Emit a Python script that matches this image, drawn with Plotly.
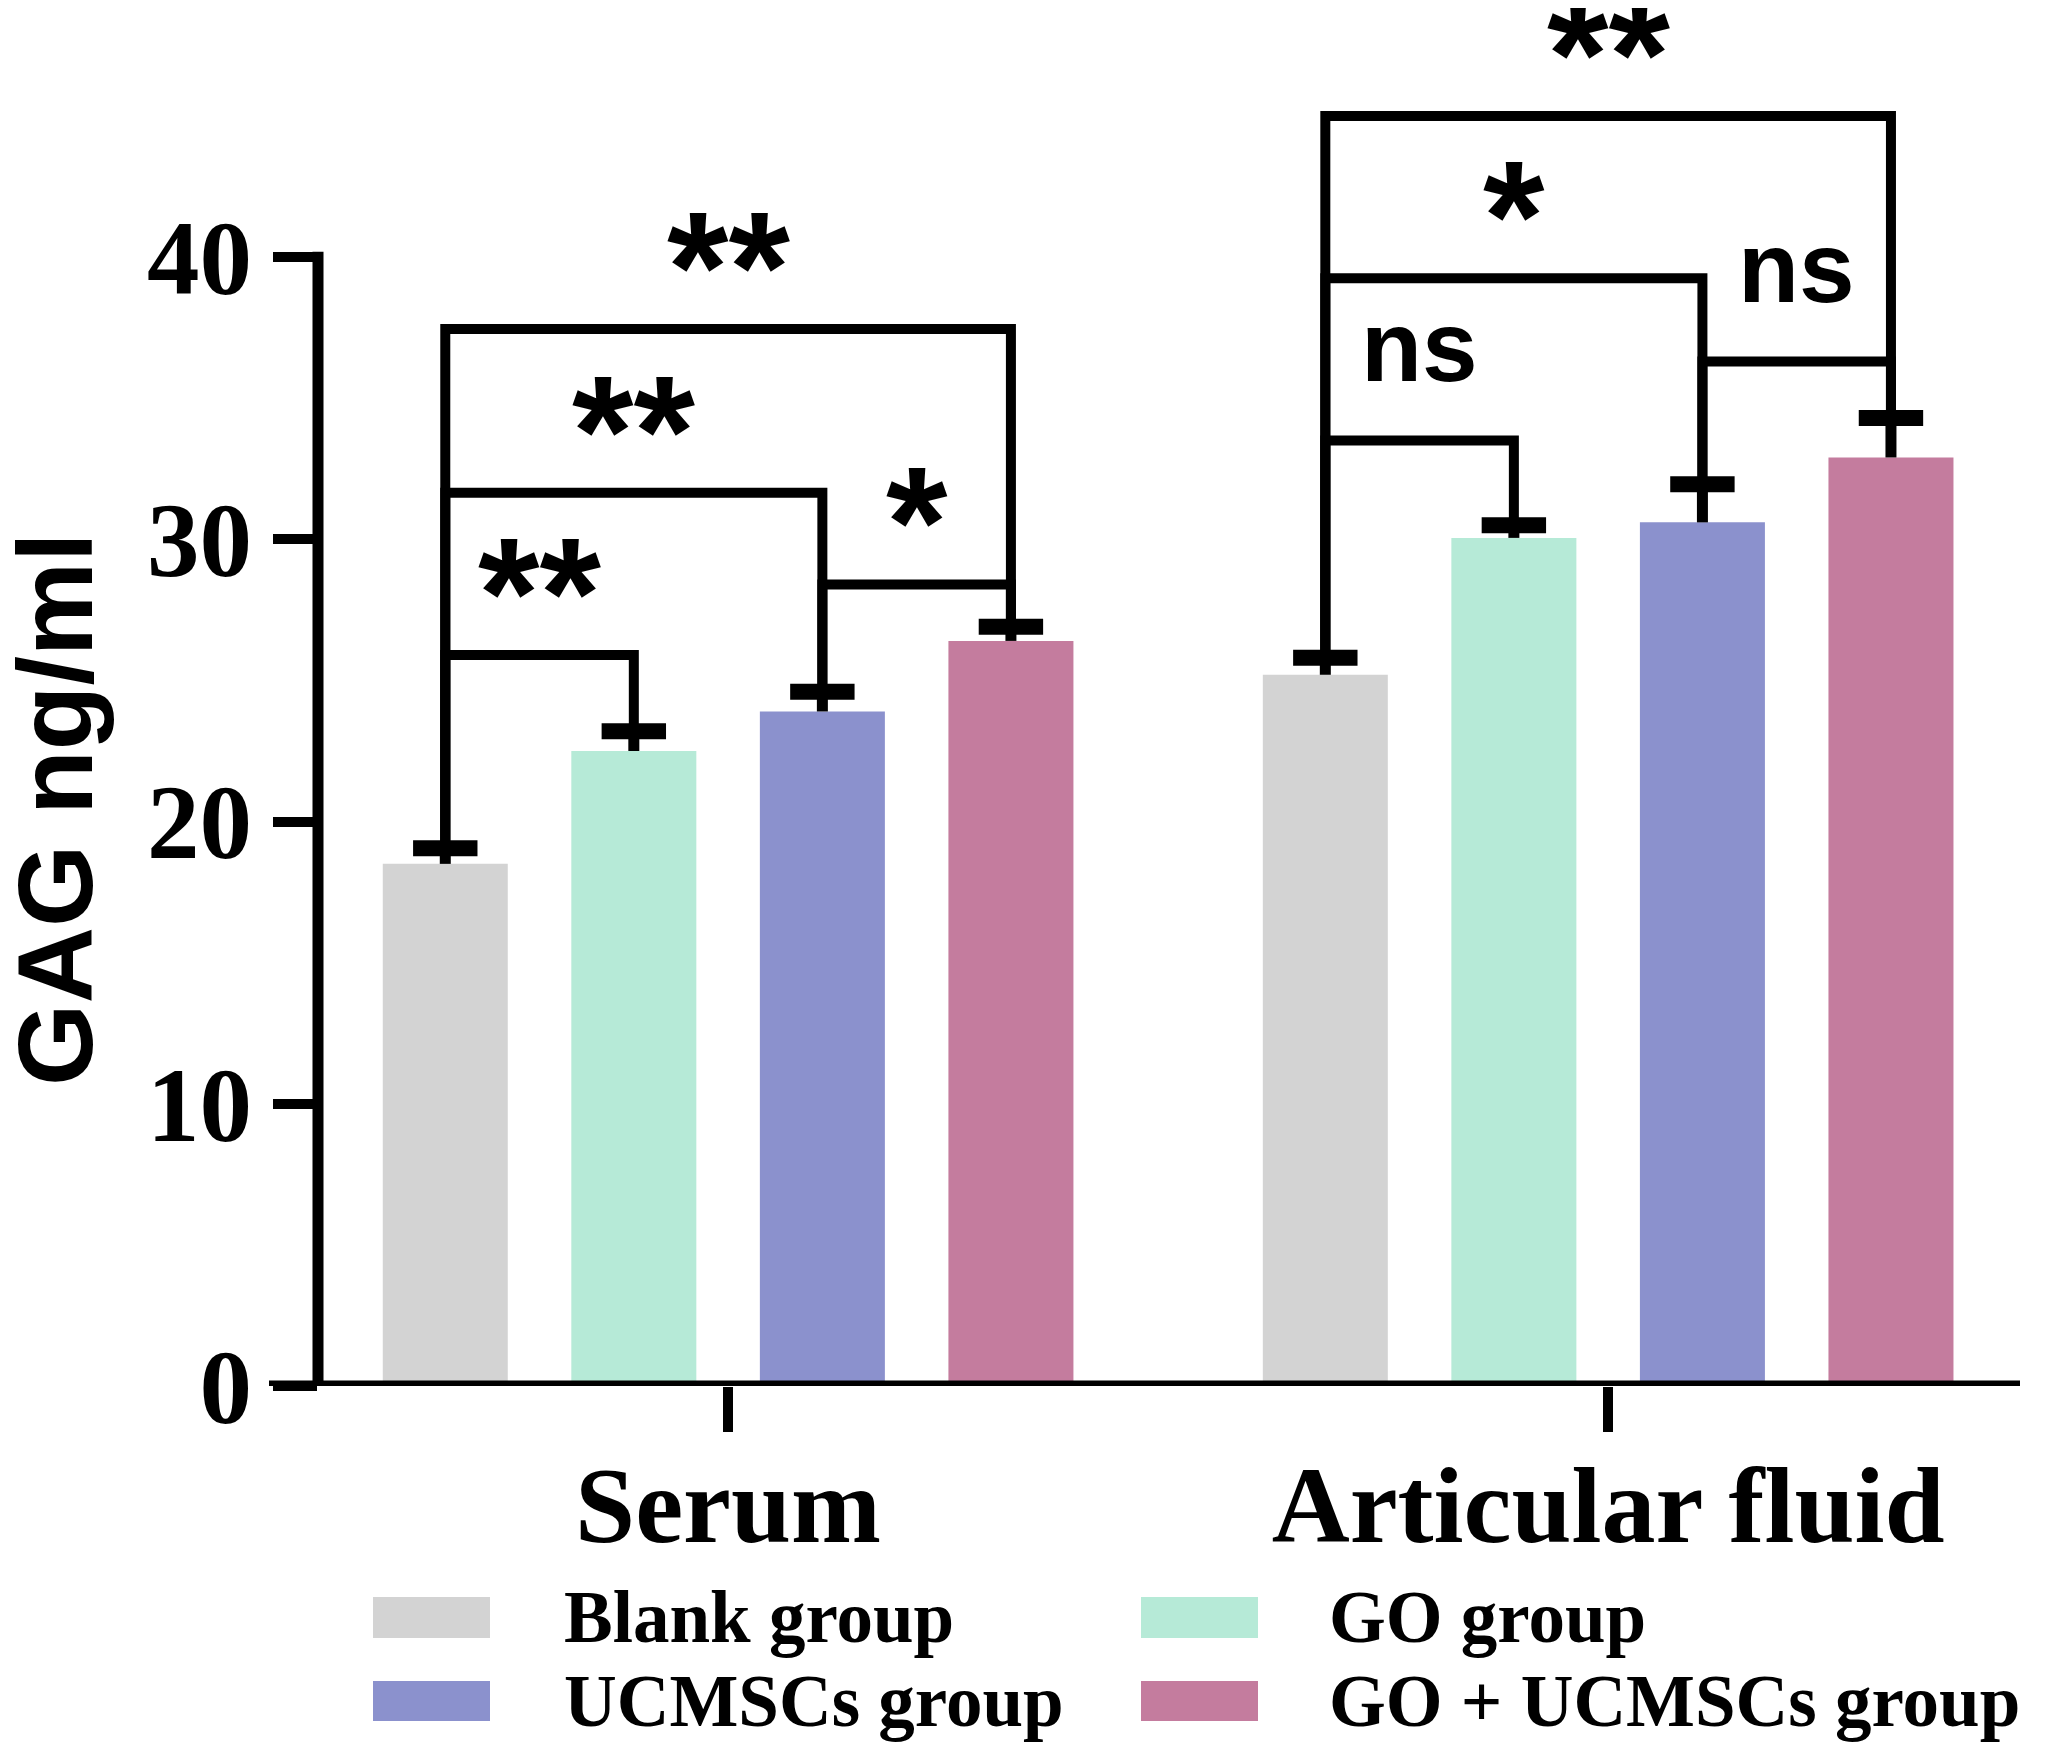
import plotly.graph_objects as go

categories = ["Serum", "Articular fluid"]
groups = ["Blank group", "GO group", "UCMSCs group", "GO + UCMSCs group"]
colors = ["#D3D3D3", "#B6EAD7", "#8B91CD", "#C47C9E"]

# GAG ng/ml per group, [Serum, Articular fluid]
blank_mean = [18.5, 25.2]
go_mean = [22.5, 30.05]
ucmsc_mean = [23.9, 30.6]
go_ucmsc_mean = [26.4, 32.9]

blank_err = [0.55, 0.6]
go_err = [0.7, 0.45]
ucmsc_err = [0.7, 1.35]
go_ucmsc_err = [0.5, 1.4]

y_ticks = [0, 10, 20, 30, 40]

# (category, group a, group b, bracket height, label)
brackets = [
    (0, 0, 1, 25.9, "**"),
    (0, 0, 2, 31.65, "**"),
    (0, 2, 3, 28.4, "*"),
    (0, 0, 3, 37.45, "**"),
    (1, 0, 1, 33.5, "ns"),
    (1, 0, 2, 39.25, "*"),
    (1, 2, 3, 36.3, "ns"),
    (1, 0, 3, 45.0, "**"),
]

means = [blank_mean, go_mean, ucmsc_mean, go_ucmsc_mean]
errs = [blank_err, go_err, ucmsc_err, go_ucmsc_err]

# page geometry (px); the page body adds an 8px margin
W, H, OFF = 2047, 1755, 8
L, R, T, B = 318, 2020, 20, 1386
BARGAP = 0.143
X_RANGE = [-0.466, 1.468]
Y_RANGE = [0, 48.4]


def px(xp):
    return (xp - L) / (R - L)


def py(yp):
    return (B - yp) / (B - T)


positions = list(range(len(categories)))
slot = (1 - BARGAP) / len(groups)


def bar_x(cat, g):
    return cat + (g - (len(groups) - 1) / 2) * slot


fig = go.Figure()
for name, color, m, e in zip(groups, colors, means, errs):
    fig.add_trace(go.Bar(
        x=positions, y=m, name=name,
        marker=dict(color=color, line=dict(width=0)),
        error_y=dict(type="data", array=e, arrayminus=[0] * len(e), symmetric=False,
                     color="black", thickness=11, width=0),
    ))

# error bar caps (top only)
cap_x, cap_y = [], []
for g in range(len(groups)):
    for c in positions:
        cap_x.append(bar_x(c, g))
        cap_y.append(means[g][c] + errs[g][c])
fig.add_trace(go.Scatter(
    x=cap_x, y=cap_y, mode="markers", hoverinfo="skip",
    marker=dict(symbol="line-ew", size=46, line=dict(color="black", width=16)),
))

shapes = []
annotations = []
for cat, a, b, yh, label in brackets:
    xa, xb = bar_x(cat, a), bar_x(cat, b)
    ya = means[a][cat] + errs[a][cat] + 0.2
    yb = means[b][cat] + errs[b][cat] + 0.2
    shapes.append(dict(type="path", xref="x", yref="y",
                       path=f"M {xa},{ya} L {xa},{yh} L {xb},{yh} L {xb},{yb}",
                       line=dict(color="black", width=10)))
    star = "*" in label
    annotations.append(dict(
        x=(xa + xb) / 2, y=yh, xref="x", yref="y", text=label, showarrow=False,
        yanchor="middle", yshift=62 if star else 95,
        font=dict(family="Liberation Sans, Arial", size=158 if star else 100,
                  color="black", weight="bold"),
    ))

# axis lines
shapes.append(dict(type="line", xref="paper", yref="y", x0=0, x1=0,
                   y0=0, y1=y_ticks[-1] + 0.19, line=dict(color="black", width=11)))
shapes.append(dict(type="line", xref="paper", yref="y", x0=px(269), x1=1,
                   y0=0, y1=0, line=dict(color="black", width=11)))

# y title
annotations.append(dict(
    x=px(55), y=py(809), xref="paper", yref="paper", text="GAG ng/ml",
    textangle=-90, showarrow=False, xanchor="center", yanchor="middle",
    font=dict(family="Liberation Sans, Arial", size=106, color="black", weight="bold"),
))

# legend (2 x 2)
legend_cols = [(373, 490, 562), (1141, 1258, 1327)]
legend_rows = [(1597, 1638), (1681, 1721)]
for i, (name, color) in enumerate(zip(groups, colors)):
    x0, x1, xt = legend_cols[i % 2]
    y0, y1 = legend_rows[i // 2]
    shapes.append(dict(type="rect", xref="paper", yref="paper",
                       x0=px(x0), x1=px(x1), y0=py(y1), y1=py(y0),
                       fillcolor=color, line=dict(width=0)))
    annotations.append(dict(
        x=px(xt), y=py((y0 + y1) / 2), xref="paper", yref="paper", text=name,
        showarrow=False, xanchor="left", yanchor="middle",
        font=dict(family="Liberation Serif, Times New Roman", size=73, color="black", weight="bold"),
    ))

fig.update_layout(
    width=W - OFF, height=H - OFF,
    margin=dict(l=L - OFF, r=W - R, t=T - OFF, b=H - B),
    plot_bgcolor="white", paper_bgcolor="white",
    barmode="group", bargap=BARGAP, bargroupgap=0.337,
    showlegend=False,
    shapes=shapes, annotations=annotations,
)
fig.update_xaxes(
    range=X_RANGE, tickvals=positions, ticktext=categories,
    showline=False, showgrid=False, zeroline=False,
    ticks="outside", ticklen=45, tickwidth=10, tickcolor="black", ticklabelstandoff=-20,
    tickfont=dict(family="Liberation Serif, Times New Roman", size=108, color="black", weight="bold"),
)
fig.update_yaxes(
    range=Y_RANGE, tickvals=y_ticks,
    showline=False, showgrid=False, zeroline=False,
    ticks="outside", ticklen=44, tickwidth=10, tickcolor="black",
    tickfont=dict(family="Liberation Serif, Times New Roman", size=105, color="black", weight="bold"),
)

fig.write_html("out.html")
